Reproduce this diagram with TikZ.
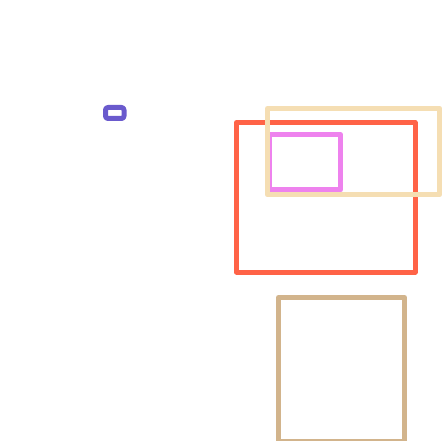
\documentclass[tikz,border=0pt]{standalone}
\usepackage{tikz}

\definecolor{boxblue}{HTML}{6A5ACD}
\definecolor{boxred}{HTML}{FF6347}
\definecolor{boxpink}{HTML}{EE82EE}
\definecolor{boxwheat}{HTML}{F5DEB3}
\definecolor{boxtan}{HTML}{D2B48C}

\begin{document}
\begin{tikzpicture}[x=1pt, y=-1pt, line width=5pt, line join=round]
        \useasboundingbox (0, 0) rectangle (442, 441);
        \fill[white] (0, 0) rectangle (442, 441);

        \draw[boxblue, rounded corners=2.5pt] (105.5, 107.5) rectangle (124, 118.5);
        \draw[boxred] (236.5, 122.5) rectangle (415, 272);
        \draw[boxpink] (269.5, 134.8) rectangle (340.5, 190);
        \draw[boxwheat] (267.5, 108.5) rectangle (439.7, 194.8);
        \draw[boxtan] (278.5, 297.5) rectangle (404.5, 441);
    \end{tikzpicture}
\end{document}
